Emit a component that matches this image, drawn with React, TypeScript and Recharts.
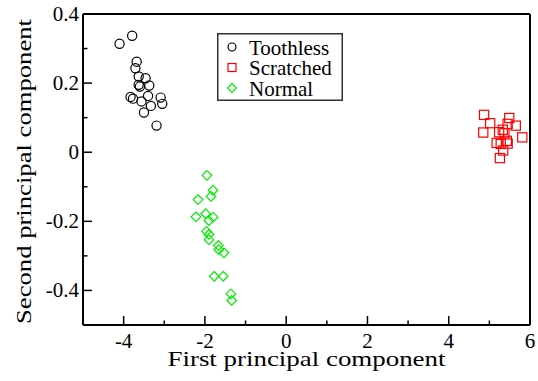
import React from 'react';
import { ScatterChart, Scatter, XAxis, YAxis, Legend } from 'recharts';

const toothlessX = [-3.79, -4.1, -3.68, -3.71, -3.63, -3.46, -3.63, -3.6, -3.37, -3.83, -3.77, -3.56, -3.4, -3.33, -3.09, -3.05, -3.5, -3.19];
const toothlessY = [0.337, 0.314, 0.262, 0.243, 0.219, 0.214, 0.195, 0.19, 0.193, 0.16, 0.155, 0.147, 0.163, 0.134, 0.158, 0.14, 0.115, 0.077];

const scratchedX = [4.87, 5.02, 4.85, 5.49, 5.45, 5.65, 5.24, 5.37, 5.33, 5.81, 5.18, 5.28, 5.43, 5.45, 5.34, 5.26];
const scratchedY = [0.108, 0.084, 0.057, 0.099, 0.082, 0.077, 0.058, 0.055, 0.065, 0.043, 0.027, 0.024, 0.033, 0.025, 0.005, -0.017];

const normalX = [-1.95, -1.8, -1.85, -2.17, -2.22, -1.98, -1.8, -1.9, -1.96, -1.9, -1.9, -1.67, -1.66, -1.53, -1.77, -1.55, -1.36, -1.34];
const normalY = [-0.067, -0.11, -0.128, -0.137, -0.187, -0.178, -0.188, -0.198, -0.229, -0.238, -0.253, -0.27, -0.282, -0.291, -0.359, -0.359, -0.41, -0.429];

const xTicks = [-5, -4, -3, -2, -1, 0, 1, 2, 3, 4, 5, 6];
const yTicks = [-0.5, -0.4, -0.3, -0.2, -0.1, 0, 0.1, 0.2, 0.3, 0.4];

const zip = (xs: number[], ys: number[]) => xs.map((x, i) => ({ x, y: ys[i] }));
const toothless = zip(toothlessX, toothlessY);
const scratched = zip(scratchedX, scratchedY);
const normal = zip(normalX, normalY);

const FONT = "'Liberation Serif', 'Times New Roman', Times, 'DejaVu Serif', serif";
const MAJOR = 9;
const MINOR = 4.5;

const isMajorX = (v: number) => Math.round(v) % 2 === 0;
const isMajorY = (v: number) => Math.round(v * 10) % 2 === 0;

const fmtY = (v: number) => {
  const r = Math.round(v * 10) / 10;
  return r === 0 ? '0' : String(r);
};

const BottomTick = (props: any) => {
  const { x, y, payload } = props;
  const v = payload.value;
  const major = isMajorX(v);
  return (
    <g>
      <line x1={x} x2={x} y1={y} y2={y - (major ? MAJOR : MINOR)} stroke="#000" strokeWidth={1.5} />
      {major && v !== -5 && (
        <text x={x} y={y + 23} textAnchor="middle" style={{ fontFamily: FONT, fontSize: 21 }} fill="#000">
          {v}
        </text>
      )}
    </g>
  );
};

const TopTick = (props: any) => {
  const { x, y, payload } = props;
  const major = isMajorX(payload.value);
  return <line x1={x} x2={x} y1={y} y2={y + (major ? MAJOR : MINOR)} stroke="#000" strokeWidth={1.5} />;
};

const LeftTick = (props: any) => {
  const { x, y, payload } = props;
  const v = payload.value;
  const major = isMajorY(v);
  return (
    <g>
      <line x1={x} x2={x + (major ? MAJOR : MINOR)} y1={y} y2={y} stroke="#000" strokeWidth={1.5} />
      {major && Math.abs(v + 0.5) > 1e-6 && (
        <text x={x - 4} y={y + 7} textAnchor="end" style={{ fontFamily: FONT, fontSize: 21 }} fill="#000">
          {fmtY(v)}
        </text>
      )}
    </g>
  );
};

const RightTick = (props: any) => {
  const { x, y, payload } = props;
  const major = isMajorY(payload.value);
  return <line x1={x} x2={x - (major ? MAJOR : MINOR)} y1={y} y2={y} stroke="#000" strokeWidth={1.5} />;
};

const XTitle = (props: any) => {
  const vb = props.viewBox;
  return (
    <text
      x={vb.x + vb.width / 2}
      y={vb.y + 41}
      textAnchor="middle"
      textLength={278}
      lengthAdjust="spacingAndGlyphs"
      style={{ fontFamily: FONT, fontSize: 22 }}
      fill="#000"
    >
      First principal component
    </text>
  );
};

const YTitle = (props: any) => {
  const vb = props.viewBox;
  const cx = 31;
  const cy = vb.y + vb.height / 2 + 2;
  return (
    <text
      x={cx}
      y={cy}
      transform={`rotate(-90 ${cx} ${cy})`}
      textAnchor="middle"
      textLength={305}
      lengthAdjust="spacingAndGlyphs"
      style={{ fontFamily: FONT, fontSize: 22 }}
      fill="#000"
    >
      Second principal component
    </text>
  );
};

const CircleShape = (props: any) => (
  <circle cx={props.cx} cy={props.cy} r={4.6} fill="none" stroke="#000" strokeWidth={1.2} />
);

const SquareShape = (props: any) => (
  <rect x={props.cx - 4.6} y={props.cy - 4.6} width={9.2} height={9.2} fill="none" stroke="#ff0000" strokeWidth={1.2} />
);

const DiamondShape = (props: any) => {
  const { cx, cy } = props;
  const r = 4.8;
  return (
    <path
      d={`M${cx},${cy - r}L${cx + r},${cy}L${cx},${cy + r}L${cx - r},${cy}Z`}
      fill="none"
      stroke="#00ee00"
      strokeWidth={1.2}
    />
  );
};

const legendItems = [
  { name: 'Toothless', kind: 'circle' },
  { name: 'Scratched', kind: 'square' },
  { name: 'Normal', kind: 'diamond' },
];

// legend drawn as its own little svg box
const LegendBox = () => (
  <svg width={126} height={68} style={{ display: 'block' }}>
    <rect x={0.75} y={0.75} width={124.5} height={66.5} fill="#fff" stroke="#333" strokeWidth={1.5} />
    {legendItems.map((it, i) => {
      const cy = 14 + i * 20.5;
      return (
        <g key={it.name}>
          {it.kind === 'circle' && <circle cx={15} cy={cy} r={4} fill="none" stroke="#000" strokeWidth={1.2} />}
          {it.kind === 'square' && <rect x={11} y={cy - 4} width={8} height={8} fill="none" stroke="#ff0000" strokeWidth={1.2} />}
          {it.kind === 'diamond' && (
            <path d={`M15,${cy - 4.5}L19.5,${cy}L15,${cy + 4.5}L10.5,${cy}Z`} fill="none" stroke="#00ee00" strokeWidth={1.2} />
          )}
          <text x={32} y={cy + 7.5} style={{ fontFamily: FONT, fontSize: 21 }} fill="#000">
            {it.name}
          </text>
        </g>
      );
    })}
  </svg>
);

export default function App() {
  return (
    <div style={{ position: 'absolute', left: 0, top: 0, width: 538, height: 381, background: '#fff' }}>
      <ScatterChart width={538} height={381} margin={{ top: 0, right: 0, bottom: 0, left: 0 }}>
        <XAxis
          xAxisId="top"
          orientation="top"
          type="number"
          dataKey="x"
          domain={[-5, 6]}
          ticks={xTicks}
          height={14}
          tickSize={0}
          tickMargin={0}
          tickLine={false}
          tick={TopTick}
          axisLine={{ stroke: '#000', strokeWidth: 2 }}
          interval={0}
        />
        <XAxis
          xAxisId="main"
          orientation="bottom"
          type="number"
          dataKey="x"
          domain={[-5, 6]}
          ticks={xTicks}
          height={56}
          tickSize={0}
          tickMargin={0}
          tickLine={false}
          tick={BottomTick}
          axisLine={{ stroke: '#000', strokeWidth: 2 }}
          interval={0}
          label={<XTitle />}
        />
        <YAxis
          yAxisId="left"
          orientation="left"
          type="number"
          dataKey="y"
          domain={[-0.5, 0.4]}
          ticks={yTicks}
          width={83}
          tickSize={0}
          tickMargin={0}
          tickLine={false}
          tick={LeftTick}
          axisLine={{ stroke: '#000', strokeWidth: 2 }}
          interval={0}
          label={<YTitle />}
        />
        <YAxis
          yAxisId="right"
          orientation="right"
          type="number"
          dataKey="y"
          domain={[-0.5, 0.4]}
          ticks={yTicks}
          width={8}
          tickSize={0}
          tickMargin={0}
          tickLine={false}
          tick={RightTick}
          axisLine={{ stroke: '#000', strokeWidth: 2 }}
          interval={0}
        />
        <Legend
          layout="vertical"
          align="center"
          verticalAlign="middle"
          content={LegendBox}
          wrapperStyle={{ left: 217, top: 33, width: 126, height: 68 }}
        />
        <Scatter name="Toothless" data={toothless} xAxisId="main" yAxisId="left" shape={CircleShape} isAnimationActive={false} />
        <Scatter name="Scratched" data={scratched} xAxisId="main" yAxisId="left" shape={SquareShape} isAnimationActive={false} />
        <Scatter name="Normal" data={normal} xAxisId="main" yAxisId="left" shape={DiamondShape} isAnimationActive={false} />
      </ScatterChart>
    </div>
  );
}
